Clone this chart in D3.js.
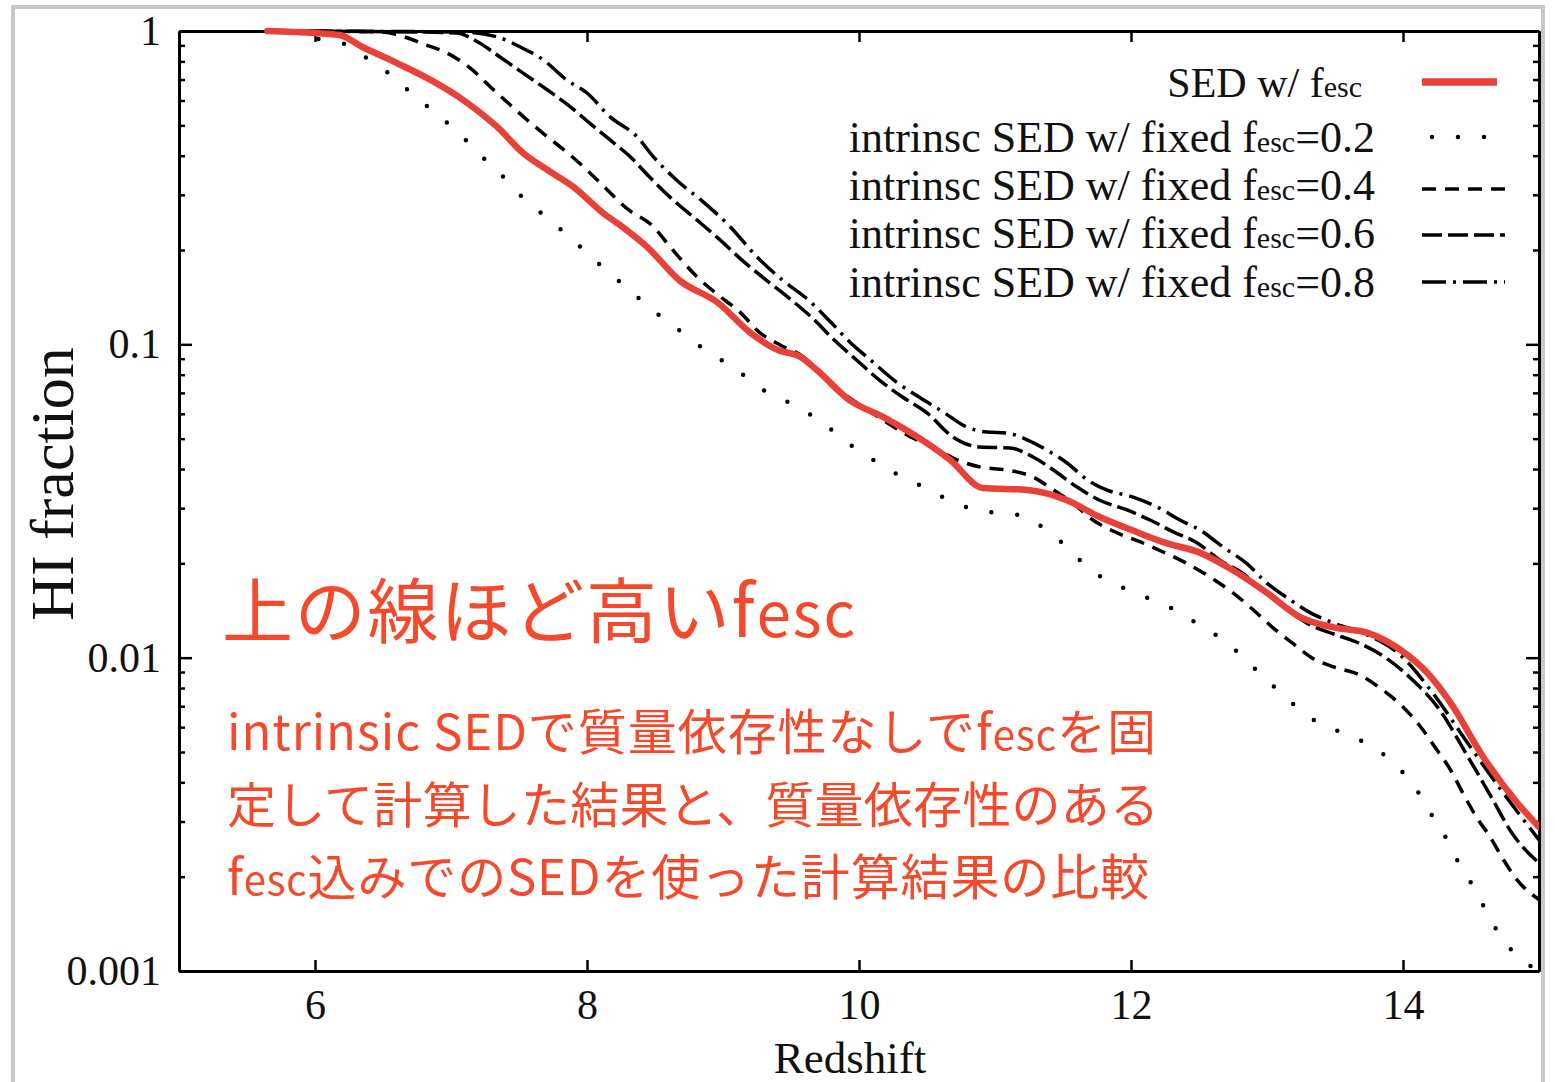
<!DOCTYPE html>
<html>
<head>
<meta charset="utf-8">
<script src="https://cdn.jsdelivr.net/npm/d3@7"></script>
<style>
  body { margin: 0; background: #fff; }
  svg { display: block; }
</style>
</head>
<body>
<script>
// redshift / HI fraction
const zSed  = [5.65, 6.0, 6.18, 6.35, 6.6, 6.85, 7.09, 7.34, 7.53, 7.71, 7.9, 8.12, 8.26, 8.44, 8.68, 8.96, 9.2, 9.4, 9.57, 9.69, 9.93, 10.18, 10.43, 10.67, 10.91, 11.24, 11.53, 11.77, 12.01, 12.26, 12.51, 12.75, 13.0, 13.24, 13.49, 13.74, 13.98, 14.18, 14.35, 14.59, 14.84, 15.0];
const hiSed = [1.0, 0.985, 0.971, 0.889, 0.791, 0.698, 0.602, 0.494, 0.408, 0.36, 0.318, 0.262, 0.237, 0.205, 0.16, 0.136, 0.109, 0.096, 0.0912, 0.0828, 0.0664, 0.0586, 0.0506, 0.0428, 0.0348, 0.0343, 0.0318, 0.0281, 0.0255, 0.0232, 0.0216, 0.019, 0.0161, 0.0135, 0.0125, 0.012, 0.0106, 0.00893, 0.00717, 0.00482, 0.00344, 0.00288];

const z02  = [5.65, 5.87, 5.99, 6.24, 6.39, 6.54, 6.69, 6.84, 6.99, 7.13, 7.26, 7.4, 7.53, 7.68, 7.82, 7.97, 8.11, 8.26, 8.4, 8.55, 8.7, 8.85, 9.01, 9.17, 9.32, 9.49, 9.66, 9.82, 9.96, 10.13, 10.29, 10.46, 10.63, 10.8, 11.0, 11.18, 11.35, 11.5, 11.64, 11.79, 11.96, 12.14, 12.31, 12.48, 12.64, 12.79, 12.93, 13.07, 13.21, 13.37, 13.54, 13.71, 13.88, 14.01, 14.13, 14.22, 14.32, 14.41, 14.51, 14.6, 14.69, 14.81, 14.95];
const hi02 = [1.0, 0.985, 0.95, 0.902, 0.814, 0.734, 0.644, 0.568, 0.501, 0.439, 0.385, 0.337, 0.293, 0.259, 0.23, 0.201, 0.177, 0.156, 0.138, 0.122, 0.109, 0.0973, 0.0879, 0.0787, 0.0705, 0.065, 0.059, 0.0525, 0.047, 0.0421, 0.0383, 0.0353, 0.0323, 0.0301, 0.029, 0.0285, 0.0261, 0.0231, 0.0202, 0.018, 0.0166, 0.0154, 0.0143, 0.0129, 0.0117, 0.01035, 0.00906, 0.00794, 0.00701, 0.00623, 0.00579, 0.00538, 0.00482, 0.00425, 0.00362, 0.0031, 0.00264, 0.00221, 0.00188, 0.00159, 0.00135, 0.00115, 0.00103];

const z04  = [5.65, 6.48, 6.82, 6.97, 7.14, 7.29, 7.42, 7.56, 7.71, 7.85, 8.0, 8.15, 8.29, 8.49, 8.61, 8.81, 8.98, 9.13, 9.27, 9.42, 9.59, 9.74, 9.88, 10.03, 10.21, 10.38, 10.54, 10.72, 10.89, 11.09, 11.28, 11.43, 11.57, 11.72, 11.9, 12.07, 12.24, 12.41, 12.58, 12.75, 12.9, 13.04, 13.19, 13.32, 13.49, 13.68, 13.85, 14.0, 14.13, 14.25, 14.35, 14.44, 14.54, 14.64, 14.74, 14.84, 15.0];
const hi04 = [1.0, 0.993, 0.902, 0.851, 0.762, 0.663, 0.589, 0.52, 0.459, 0.411, 0.36, 0.311, 0.272, 0.237, 0.205, 0.164, 0.142, 0.126, 0.109, 0.0995, 0.0912, 0.0787, 0.07, 0.0631, 0.0561, 0.0506, 0.047, 0.0428, 0.0406, 0.0397, 0.0377, 0.0343, 0.0312, 0.0275, 0.025, 0.0234, 0.0217, 0.02, 0.0181, 0.0161, 0.0142, 0.0125, 0.0111, 0.01005, 0.00934, 0.00881, 0.00789, 0.00696, 0.00601, 0.00507, 0.00438, 0.0037, 0.0031, 0.00268, 0.00226, 0.00195, 0.00169];

const z06  = [5.65, 6.77, 7.04, 7.21, 7.36, 7.53, 7.71, 7.88, 8.02, 8.17, 8.32, 8.46, 8.61, 8.81, 8.98, 9.15, 9.32, 9.49, 9.66, 9.81, 9.99, 10.15, 10.32, 10.5, 10.69, 10.89, 11.11, 11.28, 11.43, 11.6, 11.77, 11.97, 12.14, 12.31, 12.49, 12.65, 12.82, 12.97, 13.15, 13.32, 13.49, 13.66, 13.88, 14.07, 14.27, 14.47, 14.64, 14.81, 15.0];
const hi06 = [1.0, 0.993, 0.985, 0.916, 0.826, 0.734, 0.648, 0.572, 0.508, 0.449, 0.396, 0.342, 0.295, 0.249, 0.215, 0.184, 0.16, 0.14, 0.121, 0.104, 0.0885, 0.0769, 0.0679, 0.0604, 0.0506, 0.047, 0.0467, 0.0437, 0.0397, 0.0351, 0.0318, 0.0296, 0.0275, 0.0252, 0.0232, 0.0205, 0.0186, 0.0164, 0.0142, 0.0127, 0.0119, 0.0112, 0.00995, 0.00849, 0.00681, 0.00489, 0.00365, 0.00272, 0.00221];

const z08  = [5.65, 7.07, 7.34, 7.51, 7.68, 7.85, 8.0, 8.17, 8.37, 8.49, 8.66, 8.85, 9.05, 9.25, 9.44, 9.64, 9.79, 9.93, 10.08, 10.28, 10.45, 10.62, 10.79, 10.94, 11.09, 11.24, 11.38, 11.53, 11.68, 11.82, 12.01, 12.19, 12.36, 12.51, 12.68, 12.85, 13.0, 13.17, 13.32, 13.49, 13.74, 13.98, 14.22, 14.47, 14.71, 15.0];
const hi08 = [1.0, 0.993, 0.957, 0.889, 0.808, 0.698, 0.634, 0.532, 0.459, 0.396, 0.334, 0.286, 0.238, 0.19, 0.16, 0.137, 0.118, 0.102, 0.0895, 0.0755, 0.0675, 0.0608, 0.0545, 0.0525, 0.0521, 0.0495, 0.046, 0.0418, 0.0369, 0.0343, 0.0326, 0.0303, 0.0275, 0.0255, 0.0225, 0.02, 0.0173, 0.0153, 0.0139, 0.0129, 0.0118, 0.0102, 0.0077, 0.00538, 0.00384, 0.00262];

const xTicks = [6, 8, 10, 12, 14];
const yTicks = [0.001, 0.01, 0.1, 1];

const legendNames = ["SED w/ f", "intrinsc SED w/ fixed f", "intrinsc SED w/ fixed f", "intrinsc SED w/ fixed f", "intrinsc SED w/ fixed f"];
const legendFesc  = [null, "0.2", "0.4", "0.6", "0.8"];

const W = 1555, H = 1082;
const m = { left: 179, right: 1539, top: 31, bottom: 971 };
const serif = "'Liberation Serif', 'Times New Roman', serif";
const redLine = "#e8413a";
const noteColor = "#f44a2b";

const svg = d3.select("body").append("svg")
  .attr("width", W)
  .attr("height", H);

// outer grey frame of the screenshot
svg.append("rect")
  .attr("x", 13).attr("y", 7)
  .attr("width", 1530).attr("height", 1100)
  .attr("fill", "none")
  .attr("stroke", "#c8c8c8")
  .attr("stroke-width", 4);

const x = d3.scaleLinear().domain([5, 15]).range([m.left, m.right]);
const y = d3.scaleLog().domain([0.001, 1]).range([m.bottom, m.top]);

const minors = [];
[0.001, 0.01, 0.1].forEach(d => {
  for (let k = 2; k <= 9; k++) minors.push(d * k);
});

function styleAxis(g) {
  g.selectAll("path.domain").attr("stroke", "#000").attr("stroke-width", 3);
  g.selectAll(".tick line").attr("stroke", "#000").attr("stroke-width", 2.5);
  g.selectAll("text")
    .attr("fill", "#111")
    .style("font-family", serif)
    .style("font-size", "42px");
}

svg.append("g")
  .attr("transform", `translate(0,${m.bottom})`)
  .call(d3.axisBottom(x).tickValues(xTicks).tickSize(-11).tickSizeOuter(0).tickPadding(18).tickFormat(d3.format("d")))
  .call(styleAxis);

svg.append("g")
  .attr("transform", `translate(0,${m.top})`)
  .call(d3.axisTop(x).tickValues(xTicks).tickSize(-11).tickSizeOuter(0).tickFormat(""))
  .call(styleAxis);

svg.append("g")
  .attr("transform", `translate(${m.left},0)`)
  .call(d3.axisLeft(y).tickValues(yTicks).tickSize(-13).tickSizeOuter(0).tickPadding(18).tickFormat(d3.format("~g")))
  .call(styleAxis);

svg.append("g")
  .attr("transform", `translate(${m.left},0)`)
  .call(d3.axisLeft(y).tickValues(minors).tickSize(-6).tickSizeOuter(0).tickFormat(""))
  .call(styleAxis);

svg.append("g")
  .attr("transform", `translate(${m.right},0)`)
  .call(d3.axisRight(y).tickValues(yTicks).tickSize(-13).tickSizeOuter(0).tickFormat(""))
  .call(styleAxis);

svg.append("g")
  .attr("transform", `translate(${m.right},0)`)
  .call(d3.axisRight(y).tickValues(minors).tickSize(-6).tickSizeOuter(0).tickFormat(""))
  .call(styleAxis);

// axis titles
svg.append("text")
  .attr("x", 850).attr("y", 1073)
  .attr("text-anchor", "middle")
  .style("font-family", serif).style("font-size", "45px").attr("fill", "#111")
  .text("Redshift");

svg.append("text")
  .attr("transform", "translate(73,484) rotate(-90)")
  .attr("text-anchor", "middle")
  .style("font-family", serif).style("font-size", "62px").attr("fill", "#111")
  .text("HI fraction");

// curves
svg.append("clipPath").attr("id", "plotclip")
  .append("rect")
  .attr("x", m.left).attr("y", m.top - 10)
  .attr("width", m.right - m.left).attr("height", m.bottom - m.top + 10);

const line = d3.line()
  .x(d => x(d[0]))
  .y(d => y(d[1]))
  .curve(d3.curveMonotoneX);

const series = [
  { z: z02, v: hi02, color: "#000", width: 4.5, dash: "0 26", cap: "round" },
  { z: z04, v: hi04, color: "#000", width: 3.5, dash: "14 9", cap: "butt" },
  { z: z06, v: hi06, color: "#000", width: 3.5, dash: "20 6", cap: "butt" },
  { z: z08, v: hi08, color: "#000", width: 3.5, dash: "24 7 3 7", cap: "butt" },
  { z: zSed, v: hiSed, color: redLine, width: 6.5, dash: null, cap: "round" }
];

const plot = svg.append("g").attr("clip-path", "url(#plotclip)");

series.forEach(s => {
  plot.append("path")
    .datum(d3.zip(s.z, s.v))
    .attr("fill", "none")
    .attr("stroke", s.color)
    .attr("stroke-width", s.width)
    .attr("stroke-linecap", s.cap)
    .attr("stroke-dasharray", s.dash)
    .attr("d", line);
});

// legend
const legendY = [97, 152, 200, 248, 297];
const legendLineY = [82, 137, 189, 235, 282];
const legendStyle = [series[4], series[0], series[1], series[2], series[3]];

legendNames.forEach((name, i) => {
  const t = svg.append("text")
    .attr("x", i === 0 ? 1362 : 1375)
    .attr("y", legendY[i])
    .attr("text-anchor", "end")
    .style("font-family", serif)
    .style("font-size", i === 0 ? "42px" : "44px")
    .attr("fill", "#111");
  t.append("tspan").text(name);
  t.append("tspan").style("font-size", "30px").text("esc");
  if (legendFesc[i]) t.append("tspan").text("=" + legendFesc[i]);

  const s = legendStyle[i];
  svg.append("line")
    .attr("x1", i === 1 ? 1432 : 1422)
    .attr("x2", i === 0 ? 1497 : 1505)
    .attr("y1", legendLineY[i]).attr("y2", legendLineY[i])
    .attr("stroke", s.color)
    .attr("stroke-width", s.width + (i === 0 ? 1 : 0))
    .attr("stroke-linecap", i === 0 ? "butt" : s.cap)
    .attr("stroke-dasharray", s.dash);
});

// annotation in red
const jp = "'Noto Sans CJK JP', 'Noto Sans', sans-serif";

const head = svg.append("text")
  .attr("x", 222).attr("y", 637)
  .attr("textLength", 633)
  .attr("lengthAdjust", "spacing")
  .style("font-family", jp).style("font-size", "71px")
  .attr("fill", noteColor);
head.append("tspan").text("上の線ほど高いf");
head.append("tspan").style("font-size", "62px").text("esc");

const noteLines = [
  ["intrinsic SEDで質量依存性なしでf", "esc", "を固"],
  ["定して計算した結果と、質量依存性のある", "", ""],
  ["f", "esc", "込みでのSEDを使った計算結果の比較"]
];
const noteY = [750, 823, 895];
const noteWidth = [929, 932, 922];

noteLines.forEach((parts, i) => {
  const t = svg.append("text")
    .attr("x", 227).attr("y", noteY[i])
    .attr("textLength", noteWidth[i])
    .attr("lengthAdjust", "spacing")
    .style("font-family", jp).style("font-size", "49px")
    .attr("fill", noteColor);
  t.append("tspan").text(parts[0]);
  if (parts[1]) t.append("tspan").style("font-size", "40px").text(parts[1]);
  if (parts[2]) t.append("tspan").text(parts[2]);
});
</script>
</body>
</html>
